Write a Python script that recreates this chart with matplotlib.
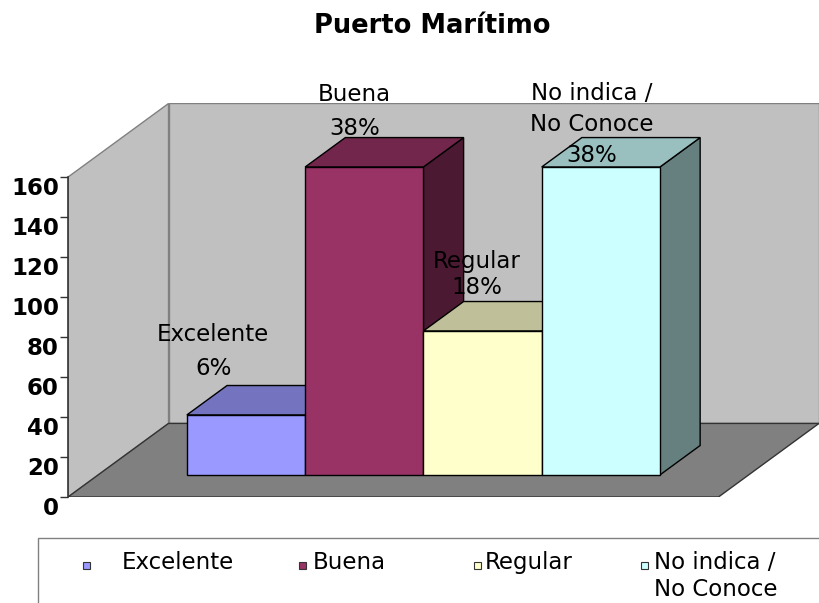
"""Puerto Maritimo: Excel-style 3-D column chart drawn with plain 2-D patches."""
import matplotlib
matplotlib.use("Agg")
import matplotlib.pyplot as plt
from matplotlib.patches import Polygon, Rectangle

categories = ["Excelente", "Buena", "Regular", "No indica /\nNo Conoce"]
values = [30, 154, 72, 154]
percents = ["6%", "38%", "18%", "38%"]
yticks = [0, 20, 40, 60, 80, 100, 120, 140, 160]

front_colors = ["#9999ff", "#993366", "#ffffcc", "#ccffff"]
top_colors = ["#7373bf", "#73264c", "#bfbf99", "#99bfbf"]
side_colors = ["#4d4d80", "#4c1933", "#808066", "#668080"]

W_PX, H_PX, DPI = 819, 603, 100

# geometry: x in bar widths, y in value units, z = depth fraction of the floor
GAP = 0.75
FLOOR_W = len(values) + 2 * GAP
DX, DY = 0.85, 36.8
Z0, Z1 = 0.3, 0.7
YMAX = 160

# label offsets in pixels from the centre of each bar's back top edge
label_dx = [-73, -50, -46, -49]
label_dy = [34, 26, 27, 13]
label_ls = [1.66, 1.61, 1.12, 1.43]

# legend layout in pixels (from top-left)
leg_square_x = [86, 302, 477, 644]
leg_text_x = [122, 313, 485, 654]

FS = 16.5


def proj(x, y, z):
    return (x + z * DX, y + z * DY)


def fx(px):
    return px / W_PX


def fy(py):
    return 1 - py / H_PX


def main():
    fig = plt.figure(figsize=(W_PX / DPI, H_PX / DPI), dpi=DPI)
    ax = fig.add_axes([fx(68), fy(497), fx(819) - fx(68), fy(103.5) - fy(497)])
    ax.set_xlim(0, FLOOR_W + DX)
    ax.set_ylim(0, YMAX + DY)

    wall = dict(facecolor="#c0c0c0", edgecolor="#808080", lw=1)
    ax.add_patch(Polygon([proj(0, 0, 0), proj(0, YMAX, 0), proj(0, YMAX, 1),
                          proj(0, 0, 1)], closed=True, **wall))
    ax.add_patch(Polygon([proj(0, 0, 1), proj(FLOOR_W, 0, 1), proj(FLOOR_W, YMAX, 1),
                          proj(0, YMAX, 1)], closed=True, **wall))
    ax.add_patch(Polygon([proj(0, 0, 0), proj(FLOOR_W, 0, 0), proj(FLOOR_W, 0, 1),
                          proj(0, 0, 1)], closed=True, facecolor="#808080",
                         edgecolor="#333333", lw=1))

    edge = dict(edgecolor="black", lw=1, joinstyle="miter")
    for i, v in enumerate(values):
        x0, x1 = GAP + i, GAP + i + 1
        side = [proj(x1, 0, Z0), proj(x1, 0, Z1), proj(x1, v, Z1), proj(x1, v, Z0)]
        top = [proj(x0, v, Z0), proj(x1, v, Z0), proj(x1, v, Z1), proj(x0, v, Z1)]
        front = [proj(x0, 0, Z0), proj(x1, 0, Z0), proj(x1, v, Z0), proj(x0, v, Z0)]
        ax.add_patch(Polygon(side, closed=True, facecolor=side_colors[i], **edge))
        ax.add_patch(Polygon(top, closed=True, facecolor=top_colors[i], **edge))
        ax.add_patch(Polygon(front, closed=True, facecolor=front_colors[i], **edge))

        ax.annotate(f"{categories[i]}\n{percents[i]}", xy=proj(x0 + 0.5, v, Z1),
                    xytext=(label_dx[i], label_dy[i]), textcoords="offset pixels",
                    ha="center", va="center", fontsize=FS, linespacing=label_ls[i],
                    color="black", zorder=5)

    for s in ("top", "right", "bottom"):
        ax.spines[s].set_visible(False)
    ax.spines["left"].set_bounds(0, YMAX)
    ax.spines["left"].set_color("#333333")
    ax.spines["left"].set_linewidth(1.2)
    ax.set_xticks([])
    ax.set_yticks(yticks)
    ax.tick_params(axis="y", direction="out", length=6, width=1, color="#333333",
                   labelsize=FS, pad=0.5)
    for lab in ax.get_yticklabels():
        lab.set_fontweight("bold")
        lab.set_verticalalignment("top")
    ax.patch.set_visible(False)

    fig.text(fx(432), fy(26), "Puerto Marítimo", ha="center", va="center",
             fontsize=18.5, fontweight="bold")

    # legend box, running off the right and bottom edges like the original
    fig.add_artist(Rectangle((fx(38), fy(625)), fx(840) - fx(38), fy(538) - fy(625),
                             transform=fig.transFigure, facecolor="white",
                             edgecolor="#808080", lw=1))
    sq = 7
    for i, cat in enumerate(categories):
        fig.add_artist(Rectangle((fx(leg_square_x[i] - sq / 2), fy(565 + sq / 2)),
                                 fx(sq), fy(0) - fy(sq), transform=fig.transFigure,
                                 facecolor=front_colors[i], edgecolor="#333333", lw=0.8))
        fig.text(fx(leg_text_x[i]), fy(551), cat, ha="left", va="top",
                 fontsize=FS, linespacing=1.2)

    fig.savefig("out.png", dpi=DPI)


if __name__ == "__main__":
    main()
